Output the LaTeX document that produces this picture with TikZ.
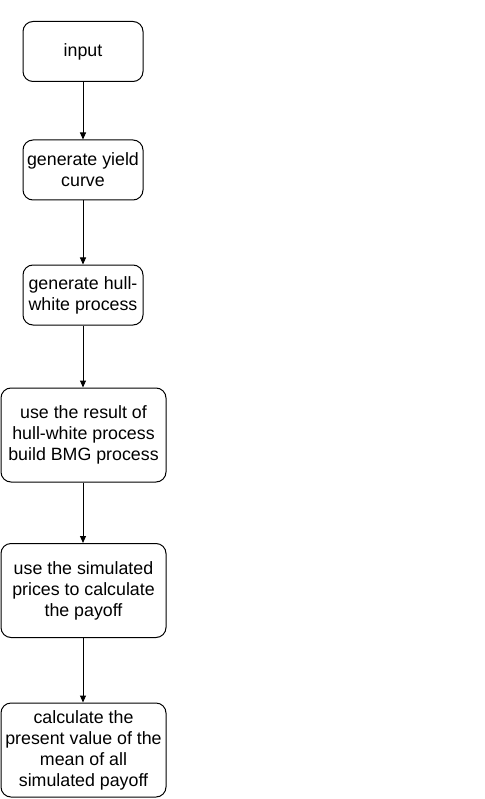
\documentclass[tikz,border=0pt]{standalone}
\usepackage{fontspec}
\setmainfont{Liberation Sans}
\usetikzlibrary{arrows.meta,positioning}

\begin{document}
\begin{tikzpicture}[x=1pt,y=-1pt,
    stepbox/.style={draw,line width=1pt,rounded corners=10pt,align=center,
      font=\fontsize{17.8}{21}\selectfont,inner sep=0pt},
    smallbox/.style={stepbox,minimum width=120pt,minimum height=60pt},
    bigbox/.style={stepbox,minimum width=165pt,minimum height=94pt},
    flow/.style={-{Triangle[length=7pt,width=6pt]},line width=1pt}]
  \useasboundingbox (0,0) rectangle (484,799);
  % steps of the pricing procedure
  \node[smallbox] (input) at (83,51.5) {input};
  \node[smallbox] (yield) at (83,170) {generate yield\\curve};
  \node[smallbox] (hw) at (83,295) {generate hull-\\white process};
  \node[bigbox] (bmg) at (83.5,435) {use the result of\\hull-white process\\build BMG process};
  \node[bigbox] (payoff) at (83.5,590.5) {use the simulated\\prices to calculate\\the payoff};
  \node[bigbox] (pv) at (83.5,750) {calculate the\\present value of the\\mean of all\\simulated payoff};
  % connectors
  \draw[flow] (input) -- (yield);
  \draw[flow] (yield) -- (hw);
  \draw[flow] (hw) -- (bmg.north -| hw.south);
  \draw[flow] (bmg.south -| hw.south) -- (payoff.north -| hw.south);
  \draw[flow] (payoff.south -| hw.south) -- (pv.north -| hw.south);
\end{tikzpicture}
\end{document}
